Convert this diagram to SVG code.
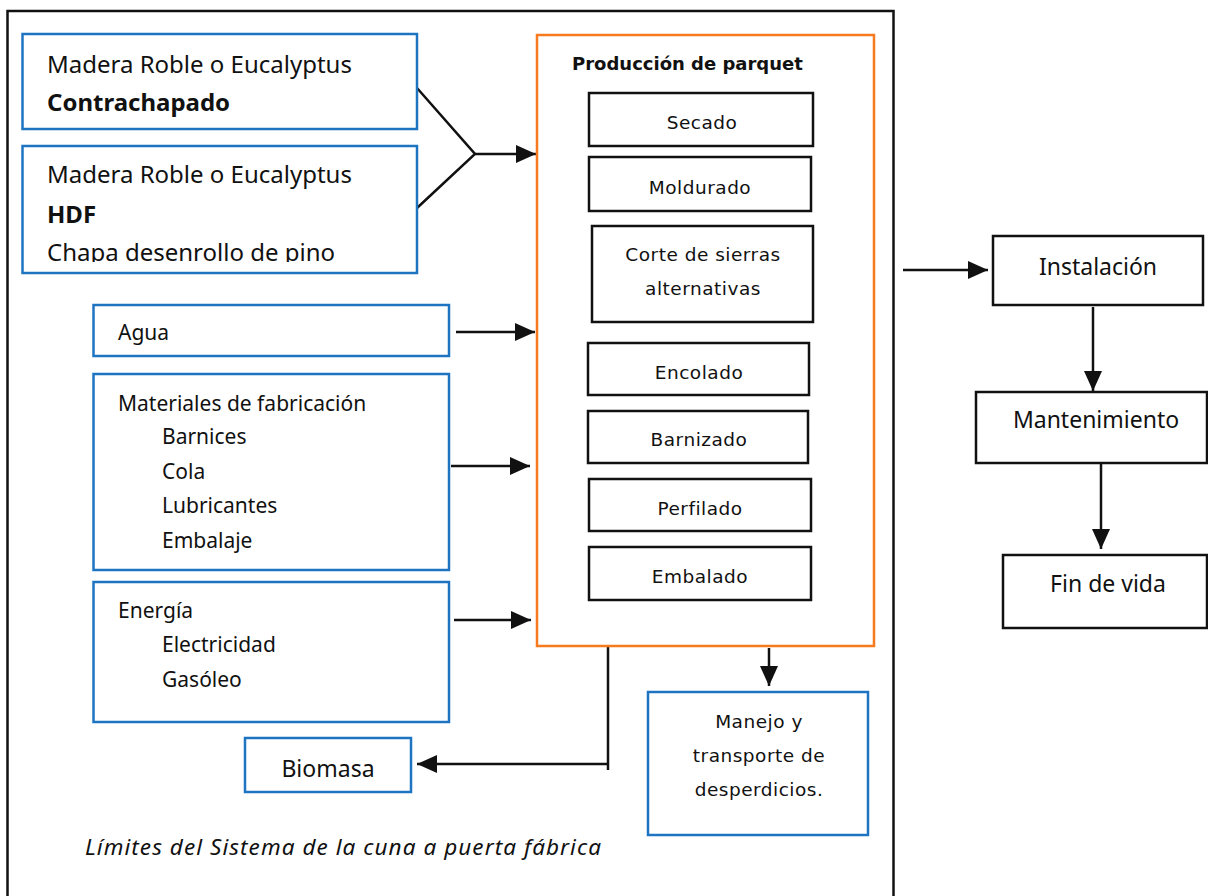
<svg xmlns="http://www.w3.org/2000/svg" width="1208" height="896" viewBox="0 0 1208 896">
<style>
.blue{fill:#fff;stroke:#1f74c2;stroke-width:2.5}
.blk{fill:#fff;stroke:#111;stroke-width:2.5}
.org{fill:#fff;stroke:#f77a1e;stroke-width:2.5}
.frame{fill:none;stroke:#111;stroke-width:2.5}
.cal{font-family:"Noto Sans","Liberation Sans",sans-serif;fill:#111}
.ver{font-family:"DejaVu Sans","Liberation Sans",sans-serif;font-size:18.5px;letter-spacing:0.5px;fill:#111;text-anchor:middle}
.conn line,.conn polyline{stroke:#111;stroke-width:2.5;fill:none}
.arr{marker-end:url(#ah)}
</style>
<defs>
<marker id="ah" viewBox="0 0 20 18" refX="20" refY="9" markerWidth="20" markerHeight="18" markerUnits="userSpaceOnUse" orient="auto">
<path d="M0,0 L20,9 L0,18 z" fill="#111"/>
</marker>
<clipPath id="clipChapa"><rect x="0" y="230" width="420" height="32"/></clipPath>
</defs>
<rect class="frame" x="7.5" y="11" width="886" height="900"/>

<g class="conn">
<polyline points="417,88 475,154 417,208"/>
<line class="arr" x1="475" y1="154" x2="536" y2="154"/>
<line class="arr" x1="456" y1="332" x2="535" y2="332"/>
<line class="arr" x1="451" y1="466" x2="530" y2="466"/>
<line class="arr" x1="454" y1="620" x2="531" y2="620"/>
<line x1="608" y1="646" x2="608" y2="770"/>
<line class="arr" x1="608" y1="764" x2="417" y2="764"/>
<line class="arr" x1="769" y1="648" x2="769" y2="686"/>
<line class="arr" x1="903" y1="270" x2="988" y2="270"/>
<line class="arr" x1="1093" y1="307" x2="1093" y2="391"/>
<line class="arr" x1="1101" y1="464" x2="1101" y2="549"/>
</g>

<g id="madera-contrachapado">
<rect class="blue" x="22.5" y="34" width="394.5" height="95"/>
<text class="cal" x="47" y="73" font-size="24">Madera Roble o Eucalyptus</text>
<text class="cal" x="47" y="111" font-size="24" font-weight="bold">Contrachapado</text>
</g>
<g id="madera-hdf">
<rect class="blue" x="22.5" y="146" width="394.5" height="127"/>
<text class="cal" x="47" y="183" font-size="24">Madera Roble o Eucalyptus</text>
<text class="cal" x="47" y="223" font-size="24" font-weight="bold">HDF</text>
<text class="cal" x="47" y="261" font-size="24" clip-path="url(#clipChapa)">Chapa desenrollo de pino</text>
</g>
<g id="agua">
<rect class="blue" x="93.5" y="305" width="355.5" height="51"/>
<text class="cal" x="118" y="340" font-size="21">Agua</text>
</g>
<g id="materiales">
<rect class="blue" x="93.5" y="374" width="355.5" height="196"/>
<text class="cal" x="118" y="411" font-size="21">Materiales de fabricación</text>
<text class="cal" x="162" y="444" font-size="21">Barnices</text>
<text class="cal" x="162" y="479" font-size="21">Cola</text>
<text class="cal" x="162" y="513" font-size="21">Lubricantes</text>
<text class="cal" x="162" y="548" font-size="21">Embalaje</text>
</g>
<g id="energia">
<rect class="blue" x="93.5" y="582" width="355.5" height="140"/>
<text class="cal" x="118" y="618" font-size="21">Energía</text>
<text class="cal" x="162" y="652" font-size="21">Electricidad</text>
<text class="cal" x="162" y="687" font-size="21">Gasóleo</text>
</g>

<g id="produccion">
<rect class="org" x="537" y="35" width="337" height="611"/>
<text x="572" y="70" font-family="'DejaVu Sans','Liberation Sans',sans-serif" font-size="18" font-weight="bold" fill="#111">Producción de parquet</text>
</g>
<g id="secado">
<rect class="blk" x="589" y="93" width="224" height="53"/>
<text class="ver" x="702" y="129">Secado</text>
</g>
<g id="moldurado">
<rect class="blk" x="589" y="157" width="222" height="54"/>
<text class="ver" x="700" y="194">Moldurado</text>
</g>
<g id="corte">
<rect class="blk" x="592" y="226" width="221" height="96"/>
<text class="ver" x="703" y="261">Corte de sierras</text>
<text class="ver" x="703" y="295">alternativas</text>
</g>
<g id="encolado">
<rect class="blk" x="588" y="343" width="221" height="52"/>
<text class="ver" x="699" y="379">Encolado</text>
</g>
<g id="barnizado">
<rect class="blk" x="588" y="411" width="220" height="52"/>
<text class="ver" x="699" y="446">Barnizado</text>
</g>
<g id="perfilado">
<rect class="blk" x="589" y="479" width="222" height="52"/>
<text class="ver" x="700" y="515">Perfilado</text>
</g>
<g id="embalado">
<rect class="blk" x="589" y="547" width="222" height="53"/>
<text class="ver" x="700" y="583">Embalado</text>
</g>

<g id="biomasa">
<rect class="blue" x="245" y="738" width="166" height="54"/>
<text class="cal" x="328" y="777" font-size="23" text-anchor="middle">Biomasa</text>
</g>
<g id="manejo">
<rect class="blue" x="648" y="692" width="220" height="143"/>
<text class="ver" x="759" y="728">Manejo y</text>
<text class="ver" x="759" y="762">transporte de</text>
<text class="ver" x="759" y="796">desperdicios.</text>
</g>

<g id="instalacion">
<rect class="blk" x="993" y="236" width="210" height="69"/>
<text class="cal" x="1098" y="275" font-size="23" text-anchor="middle">Instalación</text>
</g>
<g id="mantenimiento">
<rect class="blk" x="976" y="392" width="231" height="71"/>
<text class="cal" x="1096" y="428" font-size="23" text-anchor="middle">Mantenimiento</text>
</g>
<g id="fin-de-vida">
<rect class="blk" x="1003" y="555" width="204" height="73"/>
<text class="cal" x="1108" y="592" font-size="23" text-anchor="middle">Fin de vida</text>
</g>

<text class="cal" x="85" y="855" font-size="22.5" font-style="italic" textLength="516" lengthAdjust="spacing">Límites del Sistema de la cuna a puerta fábrica</text>
</svg>
